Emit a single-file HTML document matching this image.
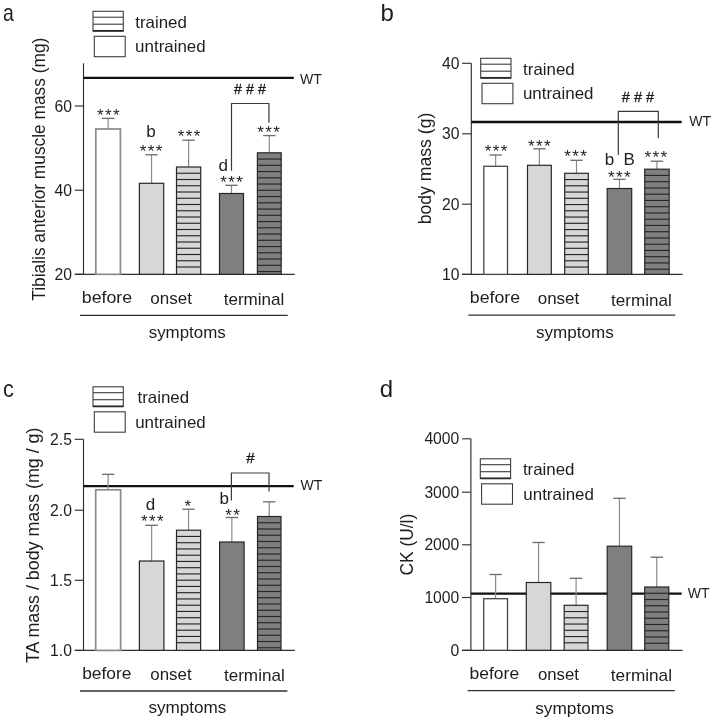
<!DOCTYPE html>
<html><head><meta charset="utf-8"><style>
html,body{margin:0;padding:0;background:#fff;}
svg{display:block;filter:grayscale(100%);}
text{font-family:"Liberation Sans", sans-serif;fill:#1e1e1e;}
</style></head><body>
<svg width="714" height="722" viewBox="0 0 714 722">
<rect width="714" height="722" fill="#fff"/>
<line x1="83.50" y1="63.30" x2="83.50" y2="274.30" stroke="#303030" stroke-width="1.15"/>
<line x1="74.80" y1="106.00" x2="83.50" y2="106.00" stroke="#303030" stroke-width="1.15"/>
<text x="71.90" y="111.50" font-size="15.7" text-anchor="end">60</text>
<line x1="74.80" y1="190.20" x2="83.50" y2="190.20" stroke="#303030" stroke-width="1.15"/>
<text x="71.90" y="195.70" font-size="15.7" text-anchor="end">40</text>
<line x1="74.80" y1="274.30" x2="83.50" y2="274.30" stroke="#303030" stroke-width="1.15"/>
<text x="71.90" y="279.80" font-size="15.7" text-anchor="end">20</text>
<line x1="74.80" y1="274.30" x2="294.70" y2="274.30" stroke="#303030" stroke-width="1.15"/>
<line x1="83.50" y1="77.80" x2="293.80" y2="77.80" stroke="#111" stroke-width="2.3"/>
<text x="300.00" y="83.80" font-size="14.5" text-anchor="start" textLength="21.8" lengthAdjust="spacingAndGlyphs">WT</text>
<line x1="108.10" y1="129.00" x2="108.10" y2="118.40" stroke="#8a8a8a" stroke-width="1.2"/>
<line x1="101.90" y1="118.40" x2="114.30" y2="118.40" stroke="#6a6a6a" stroke-width="1.3"/>
<rect x="95.80" y="129.00" width="24.60" height="145.30" fill="#fff" stroke="#8a8a8a" stroke-width="1.7"/>
<line x1="151.55" y1="183.30" x2="151.55" y2="154.80" stroke="#8a8a8a" stroke-width="1.2"/>
<line x1="145.35" y1="154.80" x2="157.75" y2="154.80" stroke="#6a6a6a" stroke-width="1.3"/>
<rect x="139.40" y="183.30" width="24.30" height="91.00" fill="#d7d7d7" stroke="#262626" stroke-width="1.2"/>
<line x1="188.60" y1="167.00" x2="188.60" y2="140.20" stroke="#8a8a8a" stroke-width="1.2"/>
<line x1="182.40" y1="140.20" x2="194.80" y2="140.20" stroke="#6a6a6a" stroke-width="1.3"/>
<rect x="176.50" y="167.00" width="24.20" height="107.30" fill="#d7d7d7" stroke="#262626" stroke-width="1.2"/>
<line x1="176.50" y1="173.25" x2="200.70" y2="173.25" stroke="#262626" stroke-width="1.15"/>
<line x1="176.50" y1="179.50" x2="200.70" y2="179.50" stroke="#262626" stroke-width="1.15"/>
<line x1="176.50" y1="185.75" x2="200.70" y2="185.75" stroke="#262626" stroke-width="1.15"/>
<line x1="176.50" y1="192.00" x2="200.70" y2="192.00" stroke="#262626" stroke-width="1.15"/>
<line x1="176.50" y1="198.25" x2="200.70" y2="198.25" stroke="#262626" stroke-width="1.15"/>
<line x1="176.50" y1="204.50" x2="200.70" y2="204.50" stroke="#262626" stroke-width="1.15"/>
<line x1="176.50" y1="210.75" x2="200.70" y2="210.75" stroke="#262626" stroke-width="1.15"/>
<line x1="176.50" y1="217.00" x2="200.70" y2="217.00" stroke="#262626" stroke-width="1.15"/>
<line x1="176.50" y1="223.25" x2="200.70" y2="223.25" stroke="#262626" stroke-width="1.15"/>
<line x1="176.50" y1="229.50" x2="200.70" y2="229.50" stroke="#262626" stroke-width="1.15"/>
<line x1="176.50" y1="235.75" x2="200.70" y2="235.75" stroke="#262626" stroke-width="1.15"/>
<line x1="176.50" y1="242.00" x2="200.70" y2="242.00" stroke="#262626" stroke-width="1.15"/>
<line x1="176.50" y1="248.25" x2="200.70" y2="248.25" stroke="#262626" stroke-width="1.15"/>
<line x1="176.50" y1="254.50" x2="200.70" y2="254.50" stroke="#262626" stroke-width="1.15"/>
<line x1="176.50" y1="260.75" x2="200.70" y2="260.75" stroke="#262626" stroke-width="1.15"/>
<line x1="176.50" y1="267.00" x2="200.70" y2="267.00" stroke="#262626" stroke-width="1.15"/>
<line x1="231.50" y1="193.50" x2="231.50" y2="185.30" stroke="#8a8a8a" stroke-width="1.2"/>
<line x1="225.30" y1="185.30" x2="237.70" y2="185.30" stroke="#6a6a6a" stroke-width="1.3"/>
<rect x="219.50" y="193.50" width="24.00" height="80.80" fill="#7f7f7f" stroke="#262626" stroke-width="1.2"/>
<line x1="269.30" y1="152.80" x2="269.30" y2="135.60" stroke="#8a8a8a" stroke-width="1.2"/>
<line x1="263.10" y1="135.60" x2="275.50" y2="135.60" stroke="#6a6a6a" stroke-width="1.3"/>
<rect x="257.40" y="152.80" width="23.80" height="121.50" fill="#7f7f7f" stroke="#262626" stroke-width="1.2"/>
<line x1="257.40" y1="159.05" x2="281.20" y2="159.05" stroke="#262626" stroke-width="1.15"/>
<line x1="257.40" y1="165.30" x2="281.20" y2="165.30" stroke="#262626" stroke-width="1.15"/>
<line x1="257.40" y1="171.55" x2="281.20" y2="171.55" stroke="#262626" stroke-width="1.15"/>
<line x1="257.40" y1="177.80" x2="281.20" y2="177.80" stroke="#262626" stroke-width="1.15"/>
<line x1="257.40" y1="184.05" x2="281.20" y2="184.05" stroke="#262626" stroke-width="1.15"/>
<line x1="257.40" y1="190.30" x2="281.20" y2="190.30" stroke="#262626" stroke-width="1.15"/>
<line x1="257.40" y1="196.55" x2="281.20" y2="196.55" stroke="#262626" stroke-width="1.15"/>
<line x1="257.40" y1="202.80" x2="281.20" y2="202.80" stroke="#262626" stroke-width="1.15"/>
<line x1="257.40" y1="209.05" x2="281.20" y2="209.05" stroke="#262626" stroke-width="1.15"/>
<line x1="257.40" y1="215.30" x2="281.20" y2="215.30" stroke="#262626" stroke-width="1.15"/>
<line x1="257.40" y1="221.55" x2="281.20" y2="221.55" stroke="#262626" stroke-width="1.15"/>
<line x1="257.40" y1="227.80" x2="281.20" y2="227.80" stroke="#262626" stroke-width="1.15"/>
<line x1="257.40" y1="234.05" x2="281.20" y2="234.05" stroke="#262626" stroke-width="1.15"/>
<line x1="257.40" y1="240.30" x2="281.20" y2="240.30" stroke="#262626" stroke-width="1.15"/>
<line x1="257.40" y1="246.55" x2="281.20" y2="246.55" stroke="#262626" stroke-width="1.15"/>
<line x1="257.40" y1="252.80" x2="281.20" y2="252.80" stroke="#262626" stroke-width="1.15"/>
<line x1="257.40" y1="259.05" x2="281.20" y2="259.05" stroke="#262626" stroke-width="1.15"/>
<line x1="257.40" y1="265.30" x2="281.20" y2="265.30" stroke="#262626" stroke-width="1.15"/>
<line x1="257.40" y1="271.55" x2="281.20" y2="271.55" stroke="#262626" stroke-width="1.15"/>
<rect x="93.00" y="11.30" width="30.3" height="19.8" fill="#fff" stroke="#3c3c3c" stroke-width="1.1"/>
<line x1="93.00" y1="17.20" x2="123.30" y2="17.20" stroke="#3c3c3c" stroke-width="1.1"/>
<line x1="93.00" y1="24.20" x2="123.30" y2="24.20" stroke="#3c3c3c" stroke-width="1.1"/>
<line x1="93.00" y1="30.80" x2="123.30" y2="30.80" stroke="#2a2a2a" stroke-width="1.7"/>
<rect x="94.30" y="36.30" width="30.9" height="20.4" fill="#fff" stroke="#3c3c3c" stroke-width="1.1"/>
<text x="135.30" y="27.50" font-size="16.5" text-anchor="start" textLength="51.6" lengthAdjust="spacingAndGlyphs">trained</text>
<text x="135.10" y="52.20" font-size="16.5" text-anchor="start" textLength="70.6" lengthAdjust="spacingAndGlyphs">untrained</text>
<text x="100.30" y="121.20" font-size="17" text-anchor="middle">*</text>
<text x="108.30" y="121.20" font-size="17" text-anchor="middle">*</text>
<text x="116.30" y="121.20" font-size="17" text-anchor="middle">*</text>
<text x="143.10" y="157.00" font-size="17" text-anchor="middle">*</text>
<text x="151.10" y="157.00" font-size="17" text-anchor="middle">*</text>
<text x="159.10" y="157.00" font-size="17" text-anchor="middle">*</text>
<text x="146.20" y="137.10" font-size="17" text-anchor="start">b</text>
<text x="181.00" y="142.10" font-size="17" text-anchor="middle">*</text>
<text x="189.00" y="142.10" font-size="17" text-anchor="middle">*</text>
<text x="197.00" y="142.10" font-size="17" text-anchor="middle">*</text>
<text x="223.50" y="188.40" font-size="17" text-anchor="middle">*</text>
<text x="231.50" y="188.40" font-size="17" text-anchor="middle">*</text>
<text x="239.50" y="188.40" font-size="17" text-anchor="middle">*</text>
<text x="218.60" y="170.80" font-size="17" text-anchor="start">d</text>
<text x="260.60" y="138.10" font-size="17" text-anchor="middle">*</text>
<text x="268.60" y="138.10" font-size="17" text-anchor="middle">*</text>
<text x="276.60" y="138.10" font-size="17" text-anchor="middle">*</text>
<text x="250.00" y="93.70" font-size="15" text-anchor="middle" textLength="31.8" lengthAdjust="spacingAndGlyphs" stroke="#1e1e1e" stroke-width="0.35"># # #</text>
<polyline points="231.5,170.8 231.5,103.5 268.9,103.5 268.9,122.7" fill="none" stroke="#3a3a3a" stroke-width="1.2"/>
<text x="3.00" y="20.80" font-size="24" text-anchor="start" textLength="10.8" lengthAdjust="spacingAndGlyphs">a</text>
<text transform="translate(44.7,169.2) rotate(-90)" font-size="17.6" text-anchor="middle" textLength="263" lengthAdjust="spacingAndGlyphs">Tibialis anterior muscle mass (mg)</text>
<text x="81.80" y="303.20" font-size="17" text-anchor="start" textLength="50.3" lengthAdjust="spacingAndGlyphs">before</text>
<text x="150.30" y="303.50" font-size="17" text-anchor="start" textLength="41.7" lengthAdjust="spacingAndGlyphs">onset</text>
<text x="223.70" y="304.70" font-size="17" text-anchor="start" textLength="60.7" lengthAdjust="spacingAndGlyphs">terminal</text>
<line x1="80.00" y1="315.30" x2="287.70" y2="315.30" stroke="#303030" stroke-width="1.3"/>
<text x="148.70" y="338.00" font-size="17" text-anchor="start" textLength="77" lengthAdjust="spacingAndGlyphs">symptoms</text>
<line x1="471.30" y1="63.30" x2="471.30" y2="274.40" stroke="#303030" stroke-width="1.15"/>
<line x1="462.10" y1="63.30" x2="471.30" y2="63.30" stroke="#303030" stroke-width="1.15"/>
<text x="459.50" y="68.80" font-size="15.7" text-anchor="end">40</text>
<line x1="462.10" y1="133.80" x2="471.30" y2="133.80" stroke="#303030" stroke-width="1.15"/>
<text x="459.50" y="139.30" font-size="15.7" text-anchor="end">30</text>
<line x1="462.10" y1="204.20" x2="471.30" y2="204.20" stroke="#303030" stroke-width="1.15"/>
<text x="459.50" y="209.70" font-size="15.7" text-anchor="end">20</text>
<line x1="462.10" y1="274.40" x2="471.30" y2="274.40" stroke="#303030" stroke-width="1.15"/>
<text x="459.50" y="279.90" font-size="15.7" text-anchor="end">10</text>
<line x1="462.10" y1="274.40" x2="682.60" y2="274.40" stroke="#303030" stroke-width="1.15"/>
<line x1="471.30" y1="122.00" x2="681.70" y2="122.00" stroke="#111" stroke-width="2.3"/>
<text x="689.20" y="125.80" font-size="14.5" text-anchor="start" textLength="21.8" lengthAdjust="spacingAndGlyphs">WT</text>
<line x1="495.65" y1="166.30" x2="495.65" y2="155.00" stroke="#8a8a8a" stroke-width="1.2"/>
<line x1="489.45" y1="155.00" x2="501.85" y2="155.00" stroke="#6a6a6a" stroke-width="1.3"/>
<rect x="483.80" y="166.30" width="23.70" height="108.10" fill="#fff" stroke="#454545" stroke-width="1.3"/>
<line x1="539.40" y1="165.30" x2="539.40" y2="148.80" stroke="#8a8a8a" stroke-width="1.2"/>
<line x1="533.20" y1="148.80" x2="545.60" y2="148.80" stroke="#6a6a6a" stroke-width="1.3"/>
<rect x="527.50" y="165.30" width="23.80" height="109.10" fill="#d7d7d7" stroke="#262626" stroke-width="1.2"/>
<line x1="576.50" y1="173.30" x2="576.50" y2="160.30" stroke="#8a8a8a" stroke-width="1.2"/>
<line x1="570.30" y1="160.30" x2="582.70" y2="160.30" stroke="#6a6a6a" stroke-width="1.3"/>
<rect x="564.70" y="173.30" width="23.60" height="101.10" fill="#d7d7d7" stroke="#262626" stroke-width="1.2"/>
<line x1="564.70" y1="179.55" x2="588.30" y2="179.55" stroke="#262626" stroke-width="1.15"/>
<line x1="564.70" y1="185.80" x2="588.30" y2="185.80" stroke="#262626" stroke-width="1.15"/>
<line x1="564.70" y1="192.05" x2="588.30" y2="192.05" stroke="#262626" stroke-width="1.15"/>
<line x1="564.70" y1="198.30" x2="588.30" y2="198.30" stroke="#262626" stroke-width="1.15"/>
<line x1="564.70" y1="204.55" x2="588.30" y2="204.55" stroke="#262626" stroke-width="1.15"/>
<line x1="564.70" y1="210.80" x2="588.30" y2="210.80" stroke="#262626" stroke-width="1.15"/>
<line x1="564.70" y1="217.05" x2="588.30" y2="217.05" stroke="#262626" stroke-width="1.15"/>
<line x1="564.70" y1="223.30" x2="588.30" y2="223.30" stroke="#262626" stroke-width="1.15"/>
<line x1="564.70" y1="229.55" x2="588.30" y2="229.55" stroke="#262626" stroke-width="1.15"/>
<line x1="564.70" y1="235.80" x2="588.30" y2="235.80" stroke="#262626" stroke-width="1.15"/>
<line x1="564.70" y1="242.05" x2="588.30" y2="242.05" stroke="#262626" stroke-width="1.15"/>
<line x1="564.70" y1="248.30" x2="588.30" y2="248.30" stroke="#262626" stroke-width="1.15"/>
<line x1="564.70" y1="254.55" x2="588.30" y2="254.55" stroke="#262626" stroke-width="1.15"/>
<line x1="564.70" y1="260.80" x2="588.30" y2="260.80" stroke="#262626" stroke-width="1.15"/>
<line x1="564.70" y1="267.05" x2="588.30" y2="267.05" stroke="#262626" stroke-width="1.15"/>
<line x1="619.45" y1="188.50" x2="619.45" y2="179.30" stroke="#8a8a8a" stroke-width="1.2"/>
<line x1="613.25" y1="179.30" x2="625.65" y2="179.30" stroke="#6a6a6a" stroke-width="1.3"/>
<rect x="607.20" y="188.50" width="24.50" height="85.90" fill="#7f7f7f" stroke="#262626" stroke-width="1.2"/>
<line x1="656.95" y1="169.20" x2="656.95" y2="161.20" stroke="#8a8a8a" stroke-width="1.2"/>
<line x1="650.75" y1="161.20" x2="663.15" y2="161.20" stroke="#6a6a6a" stroke-width="1.3"/>
<rect x="644.70" y="169.20" width="24.50" height="105.20" fill="#7f7f7f" stroke="#262626" stroke-width="1.2"/>
<line x1="644.70" y1="175.45" x2="669.20" y2="175.45" stroke="#262626" stroke-width="1.15"/>
<line x1="644.70" y1="181.70" x2="669.20" y2="181.70" stroke="#262626" stroke-width="1.15"/>
<line x1="644.70" y1="187.95" x2="669.20" y2="187.95" stroke="#262626" stroke-width="1.15"/>
<line x1="644.70" y1="194.20" x2="669.20" y2="194.20" stroke="#262626" stroke-width="1.15"/>
<line x1="644.70" y1="200.45" x2="669.20" y2="200.45" stroke="#262626" stroke-width="1.15"/>
<line x1="644.70" y1="206.70" x2="669.20" y2="206.70" stroke="#262626" stroke-width="1.15"/>
<line x1="644.70" y1="212.95" x2="669.20" y2="212.95" stroke="#262626" stroke-width="1.15"/>
<line x1="644.70" y1="219.20" x2="669.20" y2="219.20" stroke="#262626" stroke-width="1.15"/>
<line x1="644.70" y1="225.45" x2="669.20" y2="225.45" stroke="#262626" stroke-width="1.15"/>
<line x1="644.70" y1="231.70" x2="669.20" y2="231.70" stroke="#262626" stroke-width="1.15"/>
<line x1="644.70" y1="237.95" x2="669.20" y2="237.95" stroke="#262626" stroke-width="1.15"/>
<line x1="644.70" y1="244.20" x2="669.20" y2="244.20" stroke="#262626" stroke-width="1.15"/>
<line x1="644.70" y1="250.45" x2="669.20" y2="250.45" stroke="#262626" stroke-width="1.15"/>
<line x1="644.70" y1="256.70" x2="669.20" y2="256.70" stroke="#262626" stroke-width="1.15"/>
<line x1="644.70" y1="262.95" x2="669.20" y2="262.95" stroke="#262626" stroke-width="1.15"/>
<line x1="644.70" y1="269.20" x2="669.20" y2="269.20" stroke="#262626" stroke-width="1.15"/>
<rect x="480.70" y="58.30" width="30.3" height="19.8" fill="#fff" stroke="#3c3c3c" stroke-width="1.1"/>
<line x1="480.70" y1="64.20" x2="511.00" y2="64.20" stroke="#3c3c3c" stroke-width="1.1"/>
<line x1="480.70" y1="71.20" x2="511.00" y2="71.20" stroke="#3c3c3c" stroke-width="1.1"/>
<line x1="480.70" y1="77.80" x2="511.00" y2="77.80" stroke="#2a2a2a" stroke-width="1.7"/>
<rect x="482.00" y="83.30" width="30.9" height="20.4" fill="#fff" stroke="#3c3c3c" stroke-width="1.1"/>
<text x="523.10" y="74.80" font-size="16.5" text-anchor="start" textLength="51.6" lengthAdjust="spacingAndGlyphs">trained</text>
<text x="522.90" y="98.90" font-size="16.5" text-anchor="start" textLength="70.6" lengthAdjust="spacingAndGlyphs">untrained</text>
<text x="488.00" y="157.00" font-size="17" text-anchor="middle">*</text>
<text x="496.00" y="157.00" font-size="17" text-anchor="middle">*</text>
<text x="504.00" y="157.00" font-size="17" text-anchor="middle">*</text>
<text x="531.20" y="151.60" font-size="17" text-anchor="middle">*</text>
<text x="539.20" y="151.60" font-size="17" text-anchor="middle">*</text>
<text x="547.20" y="151.60" font-size="17" text-anchor="middle">*</text>
<text x="567.50" y="161.90" font-size="17" text-anchor="middle">*</text>
<text x="575.50" y="161.90" font-size="17" text-anchor="middle">*</text>
<text x="583.50" y="161.90" font-size="17" text-anchor="middle">*</text>
<text x="611.20" y="182.70" font-size="17" text-anchor="middle">*</text>
<text x="619.20" y="182.70" font-size="17" text-anchor="middle">*</text>
<text x="627.20" y="182.70" font-size="17" text-anchor="middle">*</text>
<text x="604.80" y="165.30" font-size="17" text-anchor="start">b</text>
<text x="623.50" y="165.00" font-size="17" text-anchor="start">B</text>
<text x="647.90" y="162.70" font-size="17" text-anchor="middle">*</text>
<text x="655.90" y="162.70" font-size="17" text-anchor="middle">*</text>
<text x="663.90" y="162.70" font-size="17" text-anchor="middle">*</text>
<text x="638.00" y="101.70" font-size="15" text-anchor="middle" textLength="32.5" lengthAdjust="spacingAndGlyphs" stroke="#1e1e1e" stroke-width="0.35"># # #</text>
<polyline points="618.3,155 618.3,111.3 658.3,111.3 658.3,138.3" fill="none" stroke="#3a3a3a" stroke-width="1.2"/>
<text x="380.50" y="21.20" font-size="24" text-anchor="start">b</text>
<text transform="translate(431,168.5) rotate(-90)" font-size="17.6" text-anchor="middle" textLength="111.6" lengthAdjust="spacingAndGlyphs">body mass (g)</text>
<text x="469.80" y="303.20" font-size="17" text-anchor="start" textLength="50.3" lengthAdjust="spacingAndGlyphs">before</text>
<text x="537.70" y="304.00" font-size="17" text-anchor="start" textLength="41.6" lengthAdjust="spacingAndGlyphs">onset</text>
<text x="611.00" y="305.70" font-size="17" text-anchor="start" textLength="60.7" lengthAdjust="spacingAndGlyphs">terminal</text>
<line x1="468.30" y1="315.10" x2="675.30" y2="315.10" stroke="#303030" stroke-width="1.3"/>
<text x="536.00" y="338.30" font-size="17" text-anchor="start" textLength="77.7" lengthAdjust="spacingAndGlyphs">symptoms</text>
<line x1="83.50" y1="439.30" x2="83.50" y2="650.40" stroke="#303030" stroke-width="1.15"/>
<line x1="74.80" y1="439.30" x2="83.50" y2="439.30" stroke="#303030" stroke-width="1.15"/>
<text x="71.90" y="444.80" font-size="15.7" text-anchor="end">2.5</text>
<line x1="74.80" y1="510.20" x2="83.50" y2="510.20" stroke="#303030" stroke-width="1.15"/>
<text x="71.90" y="515.70" font-size="15.7" text-anchor="end">2.0</text>
<line x1="74.80" y1="580.30" x2="83.50" y2="580.30" stroke="#303030" stroke-width="1.15"/>
<text x="71.90" y="585.80" font-size="15.7" text-anchor="end">1.5</text>
<line x1="74.80" y1="650.40" x2="83.50" y2="650.40" stroke="#303030" stroke-width="1.15"/>
<text x="71.90" y="655.90" font-size="15.7" text-anchor="end">1.0</text>
<line x1="74.80" y1="650.40" x2="294.80" y2="650.40" stroke="#303030" stroke-width="1.15"/>
<line x1="83.50" y1="486.10" x2="293.70" y2="486.10" stroke="#111" stroke-width="2.3"/>
<text x="300.50" y="490.00" font-size="14.5" text-anchor="start" textLength="21.8" lengthAdjust="spacingAndGlyphs">WT</text>
<line x1="108.15" y1="489.80" x2="108.15" y2="474.30" stroke="#8a8a8a" stroke-width="1.2"/>
<line x1="101.95" y1="474.30" x2="114.35" y2="474.30" stroke="#6a6a6a" stroke-width="1.3"/>
<rect x="95.70" y="489.80" width="24.90" height="160.60" fill="#fff" stroke="#8a8a8a" stroke-width="1.7"/>
<line x1="151.65" y1="561.00" x2="151.65" y2="525.30" stroke="#8a8a8a" stroke-width="1.2"/>
<line x1="145.45" y1="525.30" x2="157.85" y2="525.30" stroke="#6a6a6a" stroke-width="1.3"/>
<rect x="139.40" y="561.00" width="24.50" height="89.40" fill="#d7d7d7" stroke="#262626" stroke-width="1.2"/>
<line x1="188.55" y1="530.20" x2="188.55" y2="509.20" stroke="#8a8a8a" stroke-width="1.2"/>
<line x1="182.35" y1="509.20" x2="194.75" y2="509.20" stroke="#6a6a6a" stroke-width="1.3"/>
<rect x="176.50" y="530.20" width="24.10" height="120.20" fill="#d7d7d7" stroke="#262626" stroke-width="1.2"/>
<line x1="176.50" y1="536.45" x2="200.60" y2="536.45" stroke="#262626" stroke-width="1.15"/>
<line x1="176.50" y1="542.70" x2="200.60" y2="542.70" stroke="#262626" stroke-width="1.15"/>
<line x1="176.50" y1="548.95" x2="200.60" y2="548.95" stroke="#262626" stroke-width="1.15"/>
<line x1="176.50" y1="555.20" x2="200.60" y2="555.20" stroke="#262626" stroke-width="1.15"/>
<line x1="176.50" y1="561.45" x2="200.60" y2="561.45" stroke="#262626" stroke-width="1.15"/>
<line x1="176.50" y1="567.70" x2="200.60" y2="567.70" stroke="#262626" stroke-width="1.15"/>
<line x1="176.50" y1="573.95" x2="200.60" y2="573.95" stroke="#262626" stroke-width="1.15"/>
<line x1="176.50" y1="580.20" x2="200.60" y2="580.20" stroke="#262626" stroke-width="1.15"/>
<line x1="176.50" y1="586.45" x2="200.60" y2="586.45" stroke="#262626" stroke-width="1.15"/>
<line x1="176.50" y1="592.70" x2="200.60" y2="592.70" stroke="#262626" stroke-width="1.15"/>
<line x1="176.50" y1="598.95" x2="200.60" y2="598.95" stroke="#262626" stroke-width="1.15"/>
<line x1="176.50" y1="605.20" x2="200.60" y2="605.20" stroke="#262626" stroke-width="1.15"/>
<line x1="176.50" y1="611.45" x2="200.60" y2="611.45" stroke="#262626" stroke-width="1.15"/>
<line x1="176.50" y1="617.70" x2="200.60" y2="617.70" stroke="#262626" stroke-width="1.15"/>
<line x1="176.50" y1="623.95" x2="200.60" y2="623.95" stroke="#262626" stroke-width="1.15"/>
<line x1="176.50" y1="630.20" x2="200.60" y2="630.20" stroke="#262626" stroke-width="1.15"/>
<line x1="176.50" y1="636.45" x2="200.60" y2="636.45" stroke="#262626" stroke-width="1.15"/>
<line x1="176.50" y1="642.70" x2="200.60" y2="642.70" stroke="#262626" stroke-width="1.15"/>
<line x1="231.85" y1="542.00" x2="231.85" y2="517.50" stroke="#8a8a8a" stroke-width="1.2"/>
<line x1="225.65" y1="517.50" x2="238.05" y2="517.50" stroke="#6a6a6a" stroke-width="1.3"/>
<rect x="219.60" y="542.00" width="24.50" height="108.40" fill="#7f7f7f" stroke="#262626" stroke-width="1.2"/>
<line x1="269.25" y1="516.50" x2="269.25" y2="501.80" stroke="#8a8a8a" stroke-width="1.2"/>
<line x1="263.05" y1="501.80" x2="275.45" y2="501.80" stroke="#6a6a6a" stroke-width="1.3"/>
<rect x="257.50" y="516.50" width="23.50" height="133.90" fill="#7f7f7f" stroke="#262626" stroke-width="1.2"/>
<line x1="257.50" y1="522.75" x2="281.00" y2="522.75" stroke="#262626" stroke-width="1.15"/>
<line x1="257.50" y1="529.00" x2="281.00" y2="529.00" stroke="#262626" stroke-width="1.15"/>
<line x1="257.50" y1="535.25" x2="281.00" y2="535.25" stroke="#262626" stroke-width="1.15"/>
<line x1="257.50" y1="541.50" x2="281.00" y2="541.50" stroke="#262626" stroke-width="1.15"/>
<line x1="257.50" y1="547.75" x2="281.00" y2="547.75" stroke="#262626" stroke-width="1.15"/>
<line x1="257.50" y1="554.00" x2="281.00" y2="554.00" stroke="#262626" stroke-width="1.15"/>
<line x1="257.50" y1="560.25" x2="281.00" y2="560.25" stroke="#262626" stroke-width="1.15"/>
<line x1="257.50" y1="566.50" x2="281.00" y2="566.50" stroke="#262626" stroke-width="1.15"/>
<line x1="257.50" y1="572.75" x2="281.00" y2="572.75" stroke="#262626" stroke-width="1.15"/>
<line x1="257.50" y1="579.00" x2="281.00" y2="579.00" stroke="#262626" stroke-width="1.15"/>
<line x1="257.50" y1="585.25" x2="281.00" y2="585.25" stroke="#262626" stroke-width="1.15"/>
<line x1="257.50" y1="591.50" x2="281.00" y2="591.50" stroke="#262626" stroke-width="1.15"/>
<line x1="257.50" y1="597.75" x2="281.00" y2="597.75" stroke="#262626" stroke-width="1.15"/>
<line x1="257.50" y1="604.00" x2="281.00" y2="604.00" stroke="#262626" stroke-width="1.15"/>
<line x1="257.50" y1="610.25" x2="281.00" y2="610.25" stroke="#262626" stroke-width="1.15"/>
<line x1="257.50" y1="616.50" x2="281.00" y2="616.50" stroke="#262626" stroke-width="1.15"/>
<line x1="257.50" y1="622.75" x2="281.00" y2="622.75" stroke="#262626" stroke-width="1.15"/>
<line x1="257.50" y1="629.00" x2="281.00" y2="629.00" stroke="#262626" stroke-width="1.15"/>
<line x1="257.50" y1="635.25" x2="281.00" y2="635.25" stroke="#262626" stroke-width="1.15"/>
<line x1="257.50" y1="641.50" x2="281.00" y2="641.50" stroke="#262626" stroke-width="1.15"/>
<line x1="257.50" y1="647.75" x2="281.00" y2="647.75" stroke="#262626" stroke-width="1.15"/>
<rect x="93.00" y="386.80" width="30.3" height="19.8" fill="#fff" stroke="#3c3c3c" stroke-width="1.1"/>
<line x1="93.00" y1="392.70" x2="123.30" y2="392.70" stroke="#3c3c3c" stroke-width="1.1"/>
<line x1="93.00" y1="399.70" x2="123.30" y2="399.70" stroke="#3c3c3c" stroke-width="1.1"/>
<line x1="93.00" y1="406.30" x2="123.30" y2="406.30" stroke="#2a2a2a" stroke-width="1.7"/>
<rect x="94.30" y="411.80" width="30.9" height="20.4" fill="#fff" stroke="#3c3c3c" stroke-width="1.1"/>
<text x="137.50" y="403.00" font-size="16.5" text-anchor="start" textLength="51.6" lengthAdjust="spacingAndGlyphs">trained</text>
<text x="135.20" y="427.50" font-size="16.5" text-anchor="start" textLength="70.6" lengthAdjust="spacingAndGlyphs">untrained</text>
<text x="144.30" y="527.40" font-size="17" text-anchor="middle">*</text>
<text x="152.30" y="527.40" font-size="17" text-anchor="middle">*</text>
<text x="160.30" y="527.40" font-size="17" text-anchor="middle">*</text>
<text x="145.70" y="509.60" font-size="17" text-anchor="start">d</text>
<text x="187.90" y="511.70" font-size="17" text-anchor="middle">*</text>
<text x="228.60" y="520.50" font-size="17" text-anchor="middle">*</text>
<text x="236.60" y="520.50" font-size="17" text-anchor="middle">*</text>
<text x="219.60" y="503.70" font-size="17" text-anchor="start">b</text>
<text x="250.30" y="463.10" font-size="15" text-anchor="middle" stroke="#1e1e1e" stroke-width="0.35">#</text>
<polyline points="231.4,500.4 231.4,473 269,473 269,491.4" fill="none" stroke="#3a3a3a" stroke-width="1.2"/>
<text x="3.00" y="397.20" font-size="24" text-anchor="start" textLength="10.8" lengthAdjust="spacingAndGlyphs">c</text>
<text transform="translate(38.8,545.3) rotate(-90)" font-size="17.6" text-anchor="middle" textLength="235.5" lengthAdjust="spacingAndGlyphs">TA mass / body mass (mg / g)</text>
<text x="82.20" y="679.20" font-size="17" text-anchor="start" textLength="49.3" lengthAdjust="spacingAndGlyphs">before</text>
<text x="150.30" y="679.50" font-size="17" text-anchor="start" textLength="41.3" lengthAdjust="spacingAndGlyphs">onset</text>
<text x="223.90" y="681.00" font-size="17" text-anchor="start" textLength="60.9" lengthAdjust="spacingAndGlyphs">terminal</text>
<line x1="80.00" y1="691.00" x2="287.40" y2="691.00" stroke="#303030" stroke-width="1.3"/>
<text x="148.40" y="713.10" font-size="17" text-anchor="start" textLength="78" lengthAdjust="spacingAndGlyphs">symptoms</text>
<line x1="470.90" y1="438.80" x2="470.90" y2="650.30" stroke="#303030" stroke-width="1.15"/>
<line x1="462.10" y1="438.80" x2="470.90" y2="438.80" stroke="#303030" stroke-width="1.15"/>
<text x="459.30" y="444.30" font-size="15.7" text-anchor="end">4000</text>
<line x1="462.10" y1="492.20" x2="470.90" y2="492.20" stroke="#303030" stroke-width="1.15"/>
<text x="459.30" y="497.70" font-size="15.7" text-anchor="end">3000</text>
<line x1="462.10" y1="544.80" x2="470.90" y2="544.80" stroke="#303030" stroke-width="1.15"/>
<text x="459.30" y="550.30" font-size="15.7" text-anchor="end">2000</text>
<line x1="462.10" y1="597.50" x2="470.90" y2="597.50" stroke="#303030" stroke-width="1.15"/>
<text x="459.30" y="603.00" font-size="15.7" text-anchor="end">1000</text>
<line x1="462.10" y1="650.30" x2="470.90" y2="650.30" stroke="#303030" stroke-width="1.15"/>
<text x="459.30" y="655.80" font-size="15.7" text-anchor="end">0</text>
<line x1="462.10" y1="650.30" x2="682.50" y2="650.30" stroke="#303030" stroke-width="1.15"/>
<line x1="470.90" y1="593.70" x2="681.70" y2="593.70" stroke="#111" stroke-width="2.3"/>
<text x="687.80" y="598.30" font-size="14.5" text-anchor="start" textLength="21.8" lengthAdjust="spacingAndGlyphs">WT</text>
<line x1="495.60" y1="598.70" x2="495.60" y2="574.50" stroke="#8a8a8a" stroke-width="1.2"/>
<line x1="489.40" y1="574.50" x2="501.80" y2="574.50" stroke="#6a6a6a" stroke-width="1.3"/>
<rect x="483.70" y="598.70" width="23.80" height="51.60" fill="#fff" stroke="#454545" stroke-width="1.3"/>
<line x1="538.55" y1="582.50" x2="538.55" y2="542.50" stroke="#8a8a8a" stroke-width="1.2"/>
<line x1="532.35" y1="542.50" x2="544.75" y2="542.50" stroke="#6a6a6a" stroke-width="1.3"/>
<rect x="526.30" y="582.50" width="24.50" height="67.80" fill="#d7d7d7" stroke="#262626" stroke-width="1.2"/>
<line x1="576.10" y1="605.30" x2="576.10" y2="578.30" stroke="#8a8a8a" stroke-width="1.2"/>
<line x1="569.90" y1="578.30" x2="582.30" y2="578.30" stroke="#6a6a6a" stroke-width="1.3"/>
<rect x="564.20" y="605.30" width="23.80" height="45.00" fill="#d7d7d7" stroke="#262626" stroke-width="1.2"/>
<line x1="564.20" y1="611.55" x2="588.00" y2="611.55" stroke="#262626" stroke-width="1.15"/>
<line x1="564.20" y1="617.80" x2="588.00" y2="617.80" stroke="#262626" stroke-width="1.15"/>
<line x1="564.20" y1="624.05" x2="588.00" y2="624.05" stroke="#262626" stroke-width="1.15"/>
<line x1="564.20" y1="630.30" x2="588.00" y2="630.30" stroke="#262626" stroke-width="1.15"/>
<line x1="564.20" y1="636.55" x2="588.00" y2="636.55" stroke="#262626" stroke-width="1.15"/>
<line x1="564.20" y1="642.80" x2="588.00" y2="642.80" stroke="#262626" stroke-width="1.15"/>
<line x1="619.45" y1="546.20" x2="619.45" y2="498.30" stroke="#8a8a8a" stroke-width="1.2"/>
<line x1="613.25" y1="498.30" x2="625.65" y2="498.30" stroke="#6a6a6a" stroke-width="1.3"/>
<rect x="607.20" y="546.20" width="24.50" height="104.10" fill="#7f7f7f" stroke="#262626" stroke-width="1.2"/>
<line x1="656.75" y1="587.00" x2="656.75" y2="557.20" stroke="#8a8a8a" stroke-width="1.2"/>
<line x1="650.55" y1="557.20" x2="662.95" y2="557.20" stroke="#6a6a6a" stroke-width="1.3"/>
<rect x="644.70" y="587.00" width="24.10" height="63.30" fill="#7f7f7f" stroke="#262626" stroke-width="1.2"/>
<line x1="644.70" y1="593.25" x2="668.80" y2="593.25" stroke="#262626" stroke-width="1.15"/>
<line x1="644.70" y1="599.50" x2="668.80" y2="599.50" stroke="#262626" stroke-width="1.15"/>
<line x1="644.70" y1="605.75" x2="668.80" y2="605.75" stroke="#262626" stroke-width="1.15"/>
<line x1="644.70" y1="612.00" x2="668.80" y2="612.00" stroke="#262626" stroke-width="1.15"/>
<line x1="644.70" y1="618.25" x2="668.80" y2="618.25" stroke="#262626" stroke-width="1.15"/>
<line x1="644.70" y1="624.50" x2="668.80" y2="624.50" stroke="#262626" stroke-width="1.15"/>
<line x1="644.70" y1="630.75" x2="668.80" y2="630.75" stroke="#262626" stroke-width="1.15"/>
<line x1="644.70" y1="637.00" x2="668.80" y2="637.00" stroke="#262626" stroke-width="1.15"/>
<line x1="644.70" y1="643.25" x2="668.80" y2="643.25" stroke="#262626" stroke-width="1.15"/>
<rect x="480.30" y="458.80" width="30.3" height="19.8" fill="#fff" stroke="#3c3c3c" stroke-width="1.1"/>
<line x1="480.30" y1="464.70" x2="510.60" y2="464.70" stroke="#3c3c3c" stroke-width="1.1"/>
<line x1="480.30" y1="471.70" x2="510.60" y2="471.70" stroke="#3c3c3c" stroke-width="1.1"/>
<line x1="480.30" y1="478.30" x2="510.60" y2="478.30" stroke="#2a2a2a" stroke-width="1.7"/>
<rect x="481.60" y="483.80" width="30.9" height="20.4" fill="#fff" stroke="#3c3c3c" stroke-width="1.1"/>
<text x="522.90" y="475.20" font-size="16.5" text-anchor="start" textLength="51.6" lengthAdjust="spacingAndGlyphs">trained</text>
<text x="523.30" y="499.70" font-size="16.5" text-anchor="start" textLength="70.6" lengthAdjust="spacingAndGlyphs">untrained</text>
<text x="379.80" y="397.30" font-size="24" text-anchor="start">d</text>
<text transform="translate(413,544.7) rotate(-90)" font-size="17.6" text-anchor="middle" textLength="61.8" lengthAdjust="spacingAndGlyphs">CK (U/l)</text>
<text x="469.60" y="679.10" font-size="17" text-anchor="start" textLength="49.5" lengthAdjust="spacingAndGlyphs">before</text>
<text x="537.90" y="679.50" font-size="17" text-anchor="start" textLength="41" lengthAdjust="spacingAndGlyphs">onset</text>
<text x="610.80" y="681.00" font-size="17" text-anchor="start" textLength="61.2" lengthAdjust="spacingAndGlyphs">terminal</text>
<line x1="467.60" y1="690.60" x2="674.80" y2="690.60" stroke="#303030" stroke-width="1.3"/>
<text x="535.20" y="713.70" font-size="17" text-anchor="start" textLength="78.6" lengthAdjust="spacingAndGlyphs">symptoms</text>
</svg>
</body></html>
